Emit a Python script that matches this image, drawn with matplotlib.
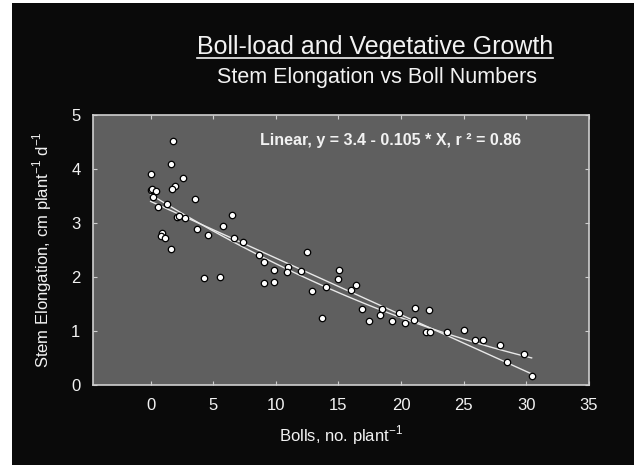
import matplotlib
matplotlib.use("Agg")
import matplotlib.pyplot as plt
import numpy as np
from matplotlib.lines import Line2D
from matplotlib.patches import Rectangle

# bolls per plant vs stem elongation (cm plant-1 d-1)
bolls = np.array([
    1.82, 1.64, 0.0, 2.57, 1.96, 1.72, 0.0, 0.1, 0.41, 3.55,
    0.17, 1.29, 0.6, 2.09, 2.3, 2.76, 6.48, 3.74, 5.74, 0.89,
    0.81, 1.18, 1.61, 4.62, 6.64, 7.41, 4.3, 5.52, 8.64, 9.07,
    9.86, 10.93, 10.88, 11.97, 12.52, 9.07, 9.84, 12.85, 14.0, 15.08,
    14.95, 16.39, 15.96, 16.84, 17.43, 18.46, 18.28, 19.31, 19.87, 20.3,
    21.13, 20.99, 22.24, 21.95, 22.3, 23.68, 25.02, 25.86, 26.5, 27.86,
    29.78, 28.45, 30.42, 13.67])
stem = np.array([
    4.51, 4.09, 3.91, 3.83, 3.69, 3.63, 3.61, 3.63, 3.59, 3.45,
    3.49, 3.35, 3.30, 3.12, 3.13, 3.09, 3.14, 2.88, 2.94, 2.82,
    2.75, 2.72, 2.51, 2.78, 2.73, 2.64, 1.98, 2.00, 2.41, 2.27,
    2.13, 2.19, 2.09, 2.12, 2.46, 1.89, 1.91, 1.75, 1.81, 2.13,
    1.97, 1.86, 1.76, 1.41, 1.19, 1.41, 1.30, 1.18, 1.34, 1.14,
    1.43, 1.20, 1.38, 0.98, 0.98, 0.98, 1.01, 0.84, 0.84, 0.75,
    0.57, 0.43, 0.17, 1.24])

lin_intercept = 3.4
lin_slope = -0.105
r2 = 0.86

xticks = [0, 5, 10, 15, 20, 25, 30, 35]
yticks = [0, 1, 2, 3, 4, 5]

fg = "#f2f2f2"
plt.rcParams["font.family"] = ["Liberation Sans", "DejaVu Sans"]
fig = plt.figure(figsize=(6.34, 4.65), dpi=100, facecolor="white")
fig.add_artist(Rectangle((12 / 634, 0), 1, 1 - 3 / 465, transform=fig.transFigure,
                         facecolor="#0a0a0a", edgecolor="none", zorder=-10))

ax = fig.add_axes([93 / 634, 1 - 385 / 465, 496 / 634, 270 / 465])
ax.set_facecolor("#5f5f5f")
for s in ax.spines.values():
    s.set_color("#cfcfcf")
    s.set_linewidth(1.2)

# fit lines
xs = np.linspace(bolls.min(), bolls.max(), 100)
ax.plot(xs, lin_intercept + lin_slope * xs, color="#e8e8e8", lw=1, zorder=2)
quad = np.polyfit(bolls, stem, 2)
ax.plot(xs, np.polyval(quad, xs), color="#e8e8e8", lw=1, zorder=2)

ax.plot(bolls, stem, "o", ms=4.6, mfc="white", mec="black", mew=0.9, zorder=3)

ax.set_xlim(-4.6, 35)
ax.set_ylim(0, 5)
ax.set_xticks(xticks)
ax.set_yticks(yticks)
ax.tick_params(direction="in", length=3, color="#cfcfcf", labelcolor=fg,
               labelsize=12, top=True, right=True)
ax.tick_params(axis="x", pad=9)
ax.tick_params(axis="y", pad=9)
ax.set_xlabel(r"Bolls, no. plant$^{\mathregular{-1}}$", color=fg, fontsize=12, labelpad=8)
ax.set_ylabel(r"Stem Elongation, cm plant$^{\mathregular{-1}}$ d$^{\mathregular{-1}}$",
              color=fg, fontsize=12, labelpad=12)

ax.text(0.6, 0.904, f"Linear, y = {lin_intercept} - {abs(lin_slope)} * X, r \u00b2 = {r2}",
        transform=ax.transAxes, ha="center", va="center", color=fg,
        fontsize=11.5, fontweight="bold")

title = fig.text(553 / 634, 1 - 47 / 465, "Boll-load and Vegetative Growth", ha="right",
                 va="center", color=fg, fontsize=18)
fig.text(537 / 634, 1 - 77 / 465, "Stem Elongation vs Boll Numbers", ha="right",
         va="center", color=fg, fontsize=15.5)

# underline under the title text
fig.canvas.draw()
bb = title.get_window_extent().transformed(fig.transFigure.inverted())
fig.add_artist(Line2D([bb.x0, bb.x1], [1 - 58 / 465, 1 - 58 / 465],
                      transform=fig.transFigure, color=fg, lw=1.2))

fig.savefig("out.png", dpi=100, facecolor=fig.get_facecolor())
